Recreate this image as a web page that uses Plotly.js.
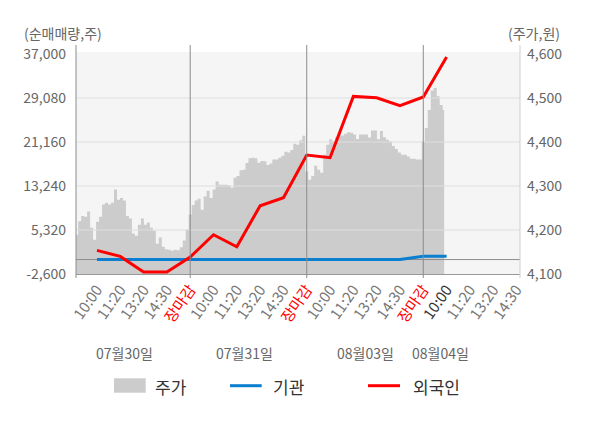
<!DOCTYPE html>
<html><head><meta charset="utf-8">
<script src="https://cdn.plot.ly/plotly-3.0.1.min.js"></script>
<style>html,body{margin:0;padding:0;background:#fff}#chart{width:600px;height:428px}</style>
</head><body><div id="chart"></div>
<script>
// ---- data ----
const timeLabels = ['10:00','11:20','13:20','14:30','장마감',
                    '10:00','11:20','13:20','14:30','장마감',
                    '10:00','11:20','13:20','14:30','장마감',
                    '10:00','11:20','13:20','14:30'];
const dateLabels = ['07월30일','07월31일','08월03일','08월04일'];

// 주가 (10-minute samples per session)
const price0730 = [4167,4189,4220,4232,4230,4242,4205,4178,4219,4230,4258,4262,4258,4262,4292,4269,4273,4267,4232,4226,
                   4192,4187,4212,4226,4212,4217,4205,4198,4169,4183,4162,4156,4155,4153,4155,4154,4161,4176,4201];
const price0731 = [4235,4257,4267,4271,4246,4276,4289,4273,4292,4310,4303,4303,4303,4301,4296,4319,4323,4336,4337,4352,
                   4363,4364,4363,4353,4357,4356,4348,4351,4360,4360,4364,4369,4378,4376,4382,4396,4394,4404,4414];
const price0803 = [4333,4314,4323,4346,4337,4330,4371,4394,4406,4402,4411,4419,4415,4419,4422,4421,4417,4407,4417,4417,
                   4417,4410,4426,4426,4406,4425,4411,4405,4401,4391,4384,4376,4371,4371,4367,4362,4362,4360,4360];
const price0804 = [4401,4432,4473,4517,4523,4504,4484,4473];

// 순매매량 (cumulative, at each time tick)
const foreignNet     = [1650,570,-2240,-2240,460, 4470,2310,9690,11130,18820, 18330,29370,29130,27690,29260, 36460];
const institutionNet = [0,0,0,0,0, 0,0,0,0,0, 0,0,0,0,600, 600];

const leftTicks  = [-2600,5320,13240,21160,29080,37000];
const rightTicks = [4100,4200,4300,4400,4500,4600];

// ---- build ----
const slotsPerDay = 5, samplesPerDay = 39;
const step = slotsPerDay / samplesPerDay;
const priceDays = [price0730, price0731, price0803, price0804];
const px = [], py = [];
priceDays.forEach((arr, d) => arr.forEach((v, i) => { px.push(d * slotsPerDay + i * step); py.push(v); }));

const tickPos = timeLabels.map((_, i) => i + 1);
const lineX = foreignNet.map((_, i) => i + 1);
const currentIdx = foreignNet.length - 1;
const tickText = timeLabels.map((t, i) => {
  if (t === '장마감') return '<span style="color:#ff0000">' + t + '</span>';
  if (i === currentIdx) return '<span style="color:#333333">' + t + '</span>';
  return t;
});

const xRange = [0.1, 19.15];
const FONT = '"Noto Sans CJK KR", "Noto Sans", sans-serif';

const gridX = [], gridY = [];
leftTicks.slice(1, -1).forEach(v => { gridX.push(xRange[0], xRange[1], null); gridY.push(v, v, null); });

const traces = [
  { x: px, y: py, xaxis: 'x', yaxis: 'y', type: 'scatter', mode: 'lines',
    line: { shape: 'hvh', width: 0, color: '#cccccc' }, fill: 'tozeroy', fillcolor: '#cccccc',
    name: '주가', hoverinfo: 'skip', showlegend: false },
  { x: gridX, y: gridY, yaxis: 'y2', type: 'scatter', mode: 'lines',
    line: { color: '#dedede', width: 1 }, hoverinfo: 'skip', showlegend: false },
  { x: xRange, y: [0, 0], yaxis: 'y2', type: 'scatter', mode: 'lines',
    line: { color: '#8c8c8c', width: 1 }, hoverinfo: 'skip', showlegend: false },
  { x: lineX, y: institutionNet, yaxis: 'y2', type: 'scatter', mode: 'lines',
    line: { color: '#0a7fd0', width: 3 }, name: '기관', showlegend: false },
  { x: lineX, y: foreignNet, yaxis: 'y2', type: 'scatter', mode: 'lines',
    line: { color: '#ff0000', width: 3 }, name: '외국인', showlegend: false }
];

const W = 444, H = 222, L = 76, T = 52;
const pxX = p => (p - L) / W;
const pxY = p => (T + H - p) / H;

const shapes = [];
// vertical separators / axis borders
[0, 5, 10, 15].forEach(s => {
  shapes.push({ type: 'line', xref: s === 0 ? 'paper' : 'x', yref: 'paper',
    x0: s === 0 ? 0 : s, x1: s === 0 ? 0 : s, y0: -0.018, y1: pxY(45),
    line: { color: '#8c8c8c', width: 1 }, layer: 'above' });
});
shapes.push({ type: 'line', xref: 'paper', yref: 'paper', x0: 1, x1: 1, y0: -0.018, y1: pxY(45),
  line: { color: '#cfcfcf', width: 1 }, layer: 'above' });
// legend symbols
shapes.push({ type: 'rect', xref: 'paper', yref: 'paper', x0: pxX(114), x1: pxX(145.7), y0: pxY(392.7), y1: pxY(378.3),
  fillcolor: '#cccccc', line: { width: 0 } });
shapes.push({ type: 'line', xref: 'paper', yref: 'paper', x0: pxX(230), x1: pxX(261.7), y0: pxY(385.7), y1: pxY(385.7),
  line: { color: '#0a7fd0', width: 3 } });
shapes.push({ type: 'line', xref: 'paper', yref: 'paper', x0: pxX(368), x1: pxX(400), y0: pxY(385.7), y1: pxY(385.7),
  line: { color: '#ff0000', width: 3 } });

const datePos = [2.2, 7.35, 12.5, 15.75];
const annotations = [
  { text: '(순매매량,주)', xref: 'paper', yref: 'paper', x: pxX(22), y: pxY(33), xanchor: 'left', yanchor: 'middle',
    showarrow: false, font: { family: FONT, size: 14, color: '#666666' } },
  { text: '(주가,원)', xref: 'paper', yref: 'paper', x: pxX(562), y: pxY(33), xanchor: 'right', yanchor: 'middle',
    showarrow: false, font: { family: FONT, size: 14, color: '#666666' } }
];
dateLabels.forEach((t, i) => annotations.push({ text: t, xref: 'x', yref: 'paper', x: datePos[i], y: pxY(353),
  xanchor: 'center', yanchor: 'middle', showarrow: false, font: { family: FONT, size: 14, color: '#666666' } }));
[['주가', 153.3], ['기관', 271], ['외국인', 411]].forEach(([t, p]) => annotations.push({ text: t, xref: 'paper', yref: 'paper',
  x: pxX(p), y: pxY(386.5), xanchor: 'left', yanchor: 'middle', showarrow: false,
  font: { family: FONT, size: 17, color: '#333333' } }));

const layout = {
  width: 600, height: 428,
  margin: { l: L, r: 600 - L - W, t: T, b: 428 - T - H, pad: 0 },
  paper_bgcolor: '#ffffff', plot_bgcolor: '#f5f5f5',
  font: { family: FONT, size: 14, color: '#666666' },
  showlegend: false,
  xaxis: { range: xRange, tickvals: tickPos, ticktext: tickText, tickangle: -55,
    showgrid: false, zeroline: false, showline: true, linecolor: '#999999', linewidth: 1,
    ticks: '', tickfont: { family: FONT, size: 15, color: '#777777' }, fixedrange: true },
  yaxis: { side: 'right', range: [rightTicks[0], rightTicks[0] + H / 0.44], tickvals: rightTicks,
    ticktext: rightTicks.map(v => v.toLocaleString('en-US')),
    showgrid: false, zeroline: false, showline: false, ticks: '', ticklabelstandoff: 6,
    tickfont: { family: FONT, size: 14, color: '#666666' } },
  yaxis2: { side: 'left', overlaying: 'y', range: [leftTicks[0], leftTicks[0] + H * 180], tickvals: leftTicks,
    ticktext: leftTicks.map(v => v.toLocaleString('en-US')),
    showgrid: false, zeroline: false, showline: false, ticks: '', ticklabelstandoff: 9,
    tickfont: { family: FONT, size: 14, color: '#666666' } },
  shapes: shapes,
  annotations: annotations
};

Plotly.newPlot('chart', traces, layout, { displayModeBar: false, staticPlot: true });
</script></body></html>
